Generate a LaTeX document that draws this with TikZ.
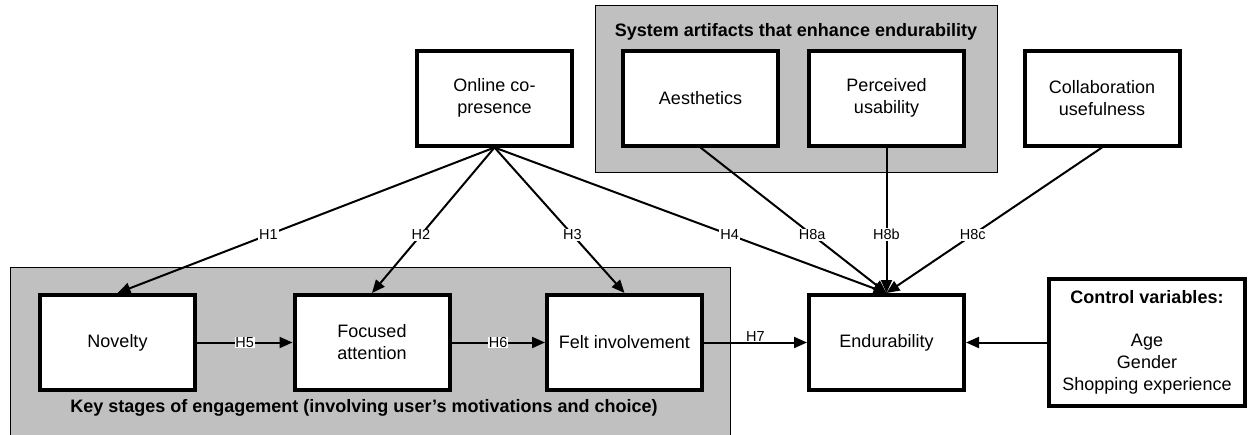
\documentclass[tikz,border=0pt]{standalone}
\usepackage{fontspec}
\setmainfont{Liberation Sans}
\usetikzlibrary{arrows.meta}
\definecolor{panel}{HTML}{C0C0C0}
\begin{document}
\begin{tikzpicture}[x=1pt,y=-1pt,
  box/.style={draw, line width=4pt, fill=white, minimum width=155pt, minimum height=95pt, align=center, font=\fontsize{18}{22}\selectfont, inner sep=2pt},
  arr/.style={line width=2pt, -{Triangle[length=13pt,width=11pt]}},
  hlab/.style={fill=white, inner sep=1pt, font=\fontsize{14.5}{16}\selectfont},
  panelbox/.style={draw=black, line width=1pt, fill=panel},
  paneltitle/.style={font=\bfseries\fontsize{18}{22}\selectfont, inner sep=0pt}]
\useasboundingbox (0,0) rectangle (1250,434);
\clip (0,0) rectangle (1250,434);
\draw[panelbox] (595,5) rectangle (997,172);
\draw[panelbox] (10,267) rectangle (730,470);
\node[paneltitle] (systitle) at (796,32) {System artifacts that enhance endurability};
\node[paneltitle] (keytitle) at (364,408) {Key stages of engagement (involving user’s motivations and choice)};
% top row
\node[box] (online) at (494.5,98) {Online co-\\presence};
\node[box] (aes) at (700.5,98) {Aesthetics};
\node[box] (perc) at (886.5,98) {Perceived\\usability};
\node[box] (collab) at (1102,98) {Collaboration\\usefulness};
% bottom row
\node[box] (nov) at (117.5,342.5) {Novelty};
\node[box] (foc) at (372,342.5) {Focused\\attention};
\node[box] (felt) at (624.5,342.5) {Felt involvement};
\node[box] (endur) at (886.5,342.5) {Endurability};
\node[box, minimum width=196pt, minimum height=127pt] (ctrl) at (1147,342.5)
  {\textbf{Control variables:}\\[21pt]Age\\Gender\\Shopping experience};
% connectors
\draw[arr] (online.south) -- node[hlab, pos=0.6] {H1} (nov.north);
\draw[arr] (online.south) -- node[hlab, pos=0.6] {H2} (foc.north);
\draw[arr] (online.south) -- node[hlab, pos=0.6] {H3} (felt.north);
\draw[arr] (online.south) -- node[hlab, pos=0.6] {H4} (endur.north);
\draw[arr] (aes.south) -- node[hlab, pos=0.6] {H8a} (endur.north);
\draw[arr] (perc.south) -- node[hlab, pos=0.6] {H8b} (endur.north);
\draw[arr] (collab.south) -- node[hlab, pos=0.6] {H8c} (endur.north);
\draw[arr] (nov.east) -- node[hlab, inner sep=0.5pt] {H5} (foc.west);
\draw[arr] (foc.east) -- node[hlab, inner sep=0.5pt] {H6} (felt.west);
\draw[arr] (felt.east) -- node[above, pos=0.5, inner sep=0pt, font=\fontsize{14.5}{16}\selectfont] {H7} (endur.west);
\draw[arr] (ctrl.west) -- (endur.east);
\end{tikzpicture}
\end{document}
